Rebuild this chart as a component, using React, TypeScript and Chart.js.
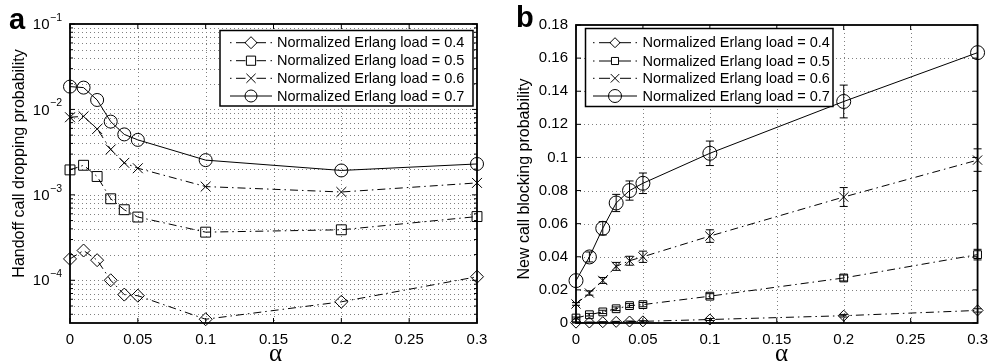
import React, { useEffect, useRef } from "react";
import { Chart, registerables } from "chart.js";
Chart.register(...registerables);

// ---------- data ----------
const alphaValues = [0, 0.01, 0.02, 0.03, 0.04, 0.05, 0.1, 0.2, 0.3];
const seriesNames = [
  "Normalized Erlang load = 0.4",
  "Normalized Erlang load = 0.5",
  "Normalized Erlang load = 0.6",
  "Normalized Erlang load = 0.7",
];
const xTickValues = [0, 0.05, 0.1, 0.15, 0.2, 0.25, 0.3];
const logDecadeExponents = [-1, -2, -3, -4];
const blockTickValues = [0, 0.02, 0.04, 0.06, 0.08, 0.1, 0.12, 0.14, 0.16, 0.18];

// (a) handoff call dropping probability
const dropLoad04 = [1.78e-4, 2.23e-4, 1.72e-4, 1.0e-4, 6.8e-5, 6.6e-5, 3.5e-5, 5.6e-5, 1.1e-4];
const dropLoad05 = [1.96e-3, 2.22e-3, 1.64e-3, 9.0e-4, 6.7e-4, 5.5e-4, 3.66e-4, 3.9e-4, 5.57e-4];
const dropLoad06 = [8.1e-3, 8.3e-3, 5.9e-3, 3.4e-3, 2.37e-3, 2.05e-3, 1.25e-3, 1.08e-3, 1.38e-3];
const dropLoad07 = [1.85e-2, 1.8e-2, 1.29e-2, 7.2e-3, 5.1e-3, 4.4e-3, 2.55e-3, 1.93e-3, 2.3e-3];

// (b) new call blocking probability
const blockLoad04 = [0.0002, 0.0003, 0.0005, 0.0007, 0.0009, 0.001, 0.0021, 0.0044, 0.0076];
const blockLoad05 = [0.003, 0.005, 0.0067, 0.0086, 0.0105, 0.0111, 0.0162, 0.0272, 0.0413];
const blockLoad06 = [0.0115, 0.0181, 0.0257, 0.0342, 0.0376, 0.04, 0.0525, 0.0761, 0.0984];
const blockLoad07 = [0.0256, 0.0399, 0.0572, 0.0725, 0.08, 0.0844, 0.1025, 0.1338, 0.1633];

const blockErr04 = [0.0003, 0.0003, 0.0003, 0.0003, 0.0003, 0.0004, 0.0006, 0.0008, 0.001];
const blockErr05 = [0.0006, 0.0008, 0.001, 0.0011, 0.0012, 0.0013, 0.0015, 0.0018, 0.0032];
const blockErr06 = [0.0008, 0.0013, 0.0018, 0.0024, 0.0027, 0.0034, 0.0038, 0.0057, 0.0068];
const blockErr07 = [0, 0.003, 0.004, 0.0052, 0.0058, 0.0062, 0.0074, 0.0099, 0];

// ---------- styles ----------
const FONT = '"Liberation Sans", Arial, Helvetica, sans-serif';
const SERIF = '"Liberation Serif", "Times New Roman", serif';
const DASHDOT = [8, 4, 1.5, 4];
const seriesStyles = [
  { pointStyle: "rectRot", dash: DASHDOT, ra: 6.5, rb: 5.5 },
  { pointStyle: "rect", dash: DASHDOT, ra: 7, rb: 5.5 },
  { pointStyle: "crossRot", dash: DASHDOT, ra: 7, rb: 6.5 },
  { pointStyle: "circle", dash: [] as number[], ra: 6.5, rb: 7 },
];

const fmt = (v: number) => String(Math.round(v * 100) / 100);

function drawMarker(ctx: CanvasRenderingContext2D, style: string, x: number, y: number, r: number) {
  ctx.save();
  ctx.setLineDash([]);
  ctx.strokeStyle = "#000";
  ctx.lineWidth = 1;
  ctx.beginPath();
  const h = r * Math.SQRT1_2;
  if (style === "circle") ctx.arc(x, y, r, 0, Math.PI * 2);
  else if (style === "rect") ctx.rect(x - h, y - h, 2 * h, 2 * h);
  else if (style === "rectRot") {
    ctx.moveTo(x, y - r); ctx.lineTo(x + r, y); ctx.lineTo(x, y + r); ctx.lineTo(x - r, y); ctx.closePath();
  } else if (style === "crossRot") {
    ctx.moveTo(x - h, y - h); ctx.lineTo(x + h, y + h); ctx.moveTo(x + h, y - h); ctx.lineTo(x - h, y + h);
  }
  ctx.stroke();
  ctx.restore();
}

function line(ctx: CanvasRenderingContext2D, x1: number, y1: number, x2: number, y2: number) {
  ctx.beginPath(); ctx.moveTo(x1, y1); ctx.lineTo(x2, y2); ctx.stroke();
}

function makeDatasets(seriesList: number[][], panel: "a" | "b") {
  return seriesList.map((vals, i) => ({
    label: seriesNames[i],
    data: alphaValues.map((x, j) => ({ x, y: vals[j] })),
    borderColor: "#000",
    borderWidth: 1,
    borderDash: seriesStyles[i].dash,
    pointStyle: seriesStyles[i].pointStyle,
    pointRadius: panel === "a" ? seriesStyles[i].ra : seriesStyles[i].rb,
    pointBorderColor: "#000",
    pointBackgroundColor: "rgba(0,0,0,0)",
    pointBorderWidth: 1,
    tension: 0,
    fill: false,
    clip: false as any,
  }));
}

type LegendLayout = { x: number; y: number; w: number; h: number; rows: number[]; L: number; R: number; mid: number; tx: number };

function drawLegend(ctx: CanvasRenderingContext2D, lg: LegendLayout, panel: "a" | "b") {
  ctx.save();
  ctx.fillStyle = "#fff";
  ctx.fillRect(lg.x, lg.y, lg.w, lg.h);
  ctx.strokeStyle = "#000";
  ctx.lineWidth = 1.5;
  ctx.strokeRect(lg.x, lg.y, lg.w, lg.h);
  ctx.lineWidth = 1;
  seriesNames.forEach((name, i) => {
    const y = lg.rows[i];
    const st = seriesStyles[i];
    const r = (panel === "a" ? st.ra : st.rb) - 0.5;
    ctx.setLineDash([]);
    if (st.dash.length === 0) {
      line(ctx, lg.L, y, lg.R, y);
    } else {
      line(ctx, lg.L, y, lg.L + 1.5, y);
      line(ctx, lg.L + 6, y, lg.mid - r + 1, y);
      line(ctx, lg.mid + r - 1, y, lg.R - 6, y);
      line(ctx, lg.R - 1.5, y, lg.R, y);
    }
    drawMarker(ctx, st.pointStyle, lg.mid, y, r);
    ctx.fillStyle = "#000";
    ctx.font = `14.5px ${FONT}`;
    ctx.textAlign = "left";
    ctx.textBaseline = "middle";
    ctx.fillText(name, lg.tx, y + 0.5);
  });
  ctx.restore();
}

function drawFrame(chart: any, yMajor: number[], yMinor: number[]) {
  const ctx: CanvasRenderingContext2D = chart.ctx;
  const a = chart.chartArea;
  const xs = chart.scales.x;
  const ys = chart.scales.y;
  ctx.save();
  ctx.strokeStyle = "#000";
  ctx.lineWidth = 1;
  ctx.setLineDash([]);
  xTickValues.forEach((v) => {
    const x = xs.getPixelForValue(v);
    line(ctx, x, a.bottom, x, a.bottom - 5);
    line(ctx, x, a.top, x, a.top + 5);
  });
  yMajor.forEach((v) => {
    const y = ys.getPixelForValue(v);
    line(ctx, a.left, y, a.left + 5, y);
    line(ctx, a.right, y, a.right - 5, y);
  });
  yMinor.forEach((v) => {
    const y = ys.getPixelForValue(v);
    line(ctx, a.left, y, a.left + 3, y);
    line(ctx, a.right, y, a.right - 3, y);
  });
  ctx.lineWidth = 1.8;
  ctx.strokeRect(a.left, a.top, a.right - a.left, a.bottom - a.top);
  ctx.restore();
}

function drawGrid(chart: any, yLines: number[]) {
  const ctx: CanvasRenderingContext2D = chart.ctx;
  const a = chart.chartArea;
  const xs = chart.scales.x;
  const ys = chart.scales.y;
  ctx.save();
  ctx.strokeStyle = "#808080";
  ctx.lineWidth = 1;
  ctx.setLineDash([1, 3]);
  xTickValues.forEach((v) => {
    const x = Math.round(xs.getPixelForValue(v)) + 0.5;
    if (x > a.left + 2 && x < a.right - 2) line(ctx, x, a.top, x, a.bottom);
  });
  yLines.forEach((v) => {
    const y = Math.round(ys.getPixelForValue(v)) + 0.5;
    if (y > a.top + 2 && y < a.bottom - 2) line(ctx, a.left, y, a.right, y);
  });
  ctx.restore();
}

function drawTexts(ctx: CanvasRenderingContext2D, label: string, lx: number, ly: number, title: string, tx: number, ty: number, ax: number) {
  ctx.save();
  ctx.fillStyle = "#000";
  ctx.font = `bold 29px ${FONT}`;
  ctx.textAlign = "left";
  ctx.textBaseline = "alphabetic";
  ctx.fillText(label, lx, ly);
  ctx.font = `16px ${FONT}`;
  ctx.textAlign = "center";
  ctx.textBaseline = "middle";
  ctx.translate(tx, ty);
  ctx.rotate(-Math.PI / 2);
  ctx.fillText(title, 0, 0);
  ctx.restore();
  ctx.save();
  ctx.fillStyle = "#000";
  ctx.font = `25px ${SERIF}`;
  ctx.textAlign = "center";
  ctx.textBaseline = "middle";
  ctx.fillText("α", ax, 354);
  ctx.restore();
}

const logMin = Math.pow(10, -4.5);
const logMax = 0.1;

function logLines() {
  const out: number[] = [];
  for (let e = -5; e <= -2; e++) {
    for (let m = 1; m <= 9; m++) {
      const v = m * Math.pow(10, e);
      if (v > logMin && v < logMax) out.push(v);
    }
  }
  return out;
}

const xScaleBase = (height: number) => ({
  type: "linear" as const,
  min: 0,
  max: 0.3,
  grid: { display: false, drawTicks: false },
  border: { display: false },
  ticks: {
    stepSize: 0.05,
    autoSkip: false,
    maxRotation: 0,
    color: "#000",
    padding: 8,
    font: { family: FONT, size: 15 },
    callback: (v: any) => fmt(Number(v)),
  },
  afterFit: (s: any) => { s.height = height; },
});

export default function App() {
  const refA = useRef<HTMLCanvasElement>(null);
  const refB = useRef<HTMLCanvasElement>(null);

  useEffect(() => {
    const gridLines = logLines();
    const majors = logDecadeExponents.map((e) => Math.pow(10, e));
    const minors = gridLines.filter((v) => !majors.some((m) => Math.abs(m - v) / m < 1e-9));

    const legendA: LegendLayout = { x: 220, y: 30.5, w: 253, h: 75.5, rows: [42.7, 60.7, 78.3, 96], L: 230, R: 272, mid: 251, tx: 277 };
    const legendB: LegendLayout = { x: 89.5, y: 28.5, w: 247.5, h: 78, rows: [42.7, 61, 78.3, 96], L: 97, R: 141, mid: 119, tx: 146.5 };

    const chartA = new Chart(refA.current as HTMLCanvasElement, {
      type: "line",
      data: { datasets: makeDatasets([dropLoad04, dropLoad05, dropLoad06, dropLoad07], "a") as any },
      options: {
        animation: false,
        responsive: false,
        events: [],
        layout: { padding: { left: 0, top: 24, right: 19, bottom: 0 } },
        plugins: { legend: { display: false }, tooltip: { enabled: false } },
        scales: {
          x: xScaleBase(41) as any,
          y: {
            type: "logarithmic",
            min: logMin,
            max: logMax,
            grid: { display: false, drawTicks: false },
            border: { display: false },
            ticks: { display: false },
            afterFit: (s: any) => { s.width = 70; },
          } as any,
        },
      },
      plugins: [
        {
          id: "frameA",
          beforeDatasetsDraw(chart: any) { drawGrid(chart, gridLines); },
          afterDatasetsDraw(chart: any) {
            drawFrame(chart, majors, minors);
            const ctx: CanvasRenderingContext2D = chart.ctx;
            const ys = chart.scales.y;
            const right = chart.chartArea.left - 8;
            ctx.save();
            ctx.fillStyle = "#000";
            logDecadeExponents.forEach((e) => {
              const y = ys.getPixelForValue(Math.pow(10, e));
              const sup = "\u2212" + String(-e);
              ctx.font = `10.5px ${FONT}`;
              ctx.textAlign = "right";
              ctx.textBaseline = "middle";
              const w = ctx.measureText(sup).width;
              ctx.fillText(sup, right, y - 6);
              ctx.font = `15px ${FONT}`;
              ctx.fillText("10", right - w - 0.5, y + 1);
            });
            ctx.restore();
            drawLegend(ctx, legendA, "a");
            drawTexts(ctx, "a", 9, 29, "Handoff call dropping probability", 20, 163.5, 275.5);
          },
        },
      ],
    });

    const errs = [blockErr04, blockErr05, blockErr06, blockErr07];
    const vals = [blockLoad04, blockLoad05, blockLoad06, blockLoad07];

    const chartB = new Chart(refB.current as HTMLCanvasElement, {
      type: "line",
      data: { datasets: makeDatasets(vals, "b") as any },
      options: {
        animation: false,
        responsive: false,
        events: [],
        layout: { padding: { left: 0, top: 25, right: 13, bottom: 0 } },
        plugins: { legend: { display: false }, tooltip: { enabled: false } },
        scales: {
          x: xScaleBase(41) as any,
          y: {
            type: "linear",
            min: 0,
            max: 0.18,
            grid: { display: false, drawTicks: false },
            border: { display: false },
            ticks: {
              stepSize: 0.02,
              autoSkip: false,
              color: "#000",
              padding: 8,
              font: { family: FONT, size: 15 },
              callback: (v: any) => fmt(Number(v)),
            },
            afterFit: (s: any) => { s.width = 80; },
          } as any,
        },
      },
      plugins: [
        {
          id: "frameB",
          beforeDatasetsDraw(chart: any) { drawGrid(chart, blockTickValues); },
          afterDatasetsDraw(chart: any) {
            const ctx: CanvasRenderingContext2D = chart.ctx;
            const xs = chart.scales.x;
            const ys = chart.scales.y;
            ctx.save();
            ctx.strokeStyle = "#000";
            ctx.lineWidth = 1;
            ctx.setLineDash([]);
            vals.forEach((series, i) => {
              series.forEach((v, j) => {
                const e = errs[i][j];
                if (!(e > 0)) return;
                const x = xs.getPixelForValue(alphaValues[j]);
                const yt = ys.getPixelForValue(v + e);
                const yb = ys.getPixelForValue(Math.max(v - e, 0));
                line(ctx, x, yt, x, yb);
                line(ctx, x - 4, yt, x + 4, yt);
                line(ctx, x - 4, yb, x + 4, yb);
              });
            });
            ctx.restore();
            drawFrame(chart, blockTickValues, []);
            drawLegend(ctx, legendB, "b");
            drawTexts(ctx, "b", 20, 27, "New call blocking probability", 29, 179, 285.5);
          },
        },
      ],
    });

    return () => {
      chartA.destroy();
      chartB.destroy();
    };
  }, []);

  return (
    <div style={{ position: "fixed", left: 0, top: 0, width: 996, height: 364, background: "#fff" }}>
      <canvas ref={refA} width={496} height={364} style={{ position: "absolute", left: 0, top: 0, width: 496, height: 364 }} />
      <canvas ref={refB} width={500} height={364} style={{ position: "absolute", left: 496, top: 0, width: 500, height: 364 }} />
    </div>
  );
}
